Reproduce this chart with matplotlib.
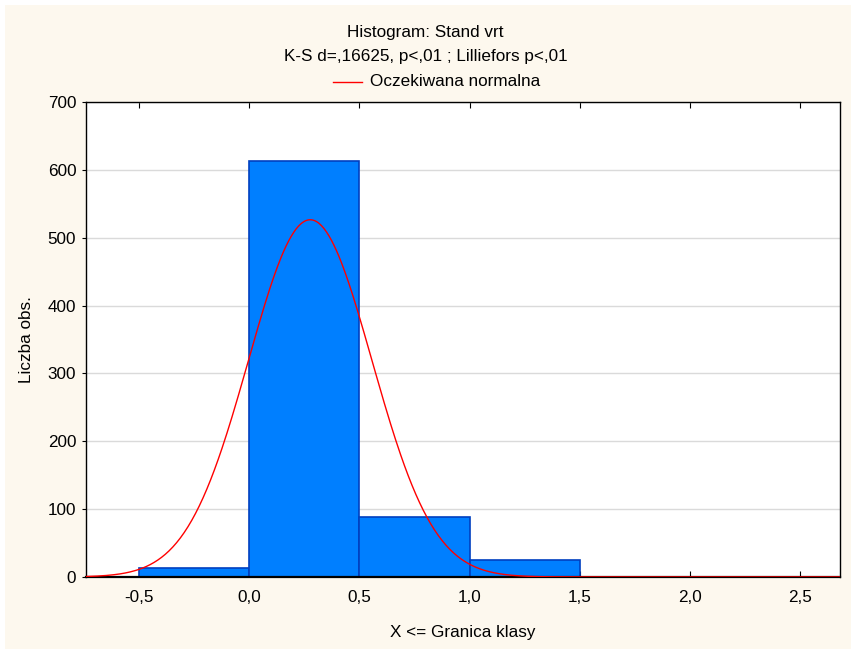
import numpy as np
import matplotlib
matplotlib.use("Agg")
import matplotlib.pyplot as plt
from matplotlib.patches import Rectangle
from matplotlib.lines import Line2D

plt.rcParams['font.family'] = ['Liberation Sans', 'DejaVu Sans']

bin_left = [-0.5, 0.0, 0.5, 1.0, 1.5, 2.0]
counts = [13, 613, 88, 25, 0, 0]
bin_width = 0.5
norm_mean = 0.277
norm_sd = 0.280
n_total = sum(counts)
xticks = [-0.5, 0.0, 0.5, 1.0, 1.5, 2.0, 2.5]
yticks = [0, 100, 200, 300, 400, 500, 600, 700]

title1 = "Histogram: Stand vrt"
title2 = "K-S d=,16625, p<,01 ; Lilliefors p<,01"
legend_label = "Oczekiwana normalna"

W, H = 851, 649
bg = "#FDF8EE"
fs = 12.3
fig = plt.figure(figsize=(W/100, H/100), dpi=100, facecolor="white")
fig.patches.append(Rectangle((5/W, -0.01), 1.1, 1.01-5/H, transform=fig.transFigure,
                             facecolor=bg, edgecolor="none", zorder=-10))
ax = fig.add_axes([86/W, 1-577/H, (840-86)/W, (577-102)/H])
ax.set_facecolor("white")

ax.bar(bin_left, counts, width=bin_width, align='edge', color="#007FFF",
       edgecolor="#0040C0", linewidth=1.2, zorder=2)

xs = np.linspace(-0.74, 2.68, 600)
ys = n_total * bin_width / (norm_sd * np.sqrt(2*np.pi)) * np.exp(-0.5*((xs-norm_mean)/norm_sd)**2)
ax.plot(xs, ys, color="#FF0000", linewidth=1.0, zorder=3)

ax.set_xlim(-0.74, 2.68)
ax.set_ylim(0, 700)
ax.set_xticks(xticks)
ax.set_xticklabels([f"{t:.1f}".replace('.', ',') for t in xticks])
ax.set_yticks(yticks)
ax.yaxis.grid(True, color="#DADADA", linewidth=1.0, zorder=0)
ax.set_axisbelow(True)
ax.tick_params(axis='x', direction='in', top=True, length=4, labelsize=fs, pad=9)
ax.tick_params(axis='y', direction='out', length=3, labelsize=fs, pad=4)
for s in ax.spines.values():
    s.set_color("black")
    s.set_linewidth(1.0)
ax.spines['bottom'].set_linewidth(1.6)

ax.set_xlabel("X <= Granica klasy", fontsize=fs, labelpad=15)
ax.set_ylabel("Liczba obs.", fontsize=fs, labelpad=10)

fig.text(0.5, 1-33/H, title1, ha='center', va='center', fontsize=fs)
fig.text(0.5, 1-57/H, title2, ha='center', va='center', fontsize=fs)
fig.lines.append(Line2D([333/W, 362/W], [1-82/H, 1-82/H],
                        color="#FF0000", linewidth=1.0, transform=fig.transFigure))
fig.text(370/W, 1-82/H, legend_label, ha='left', va='center', fontsize=fs)

fig.savefig("out.png", dpi=100, facecolor="white")
